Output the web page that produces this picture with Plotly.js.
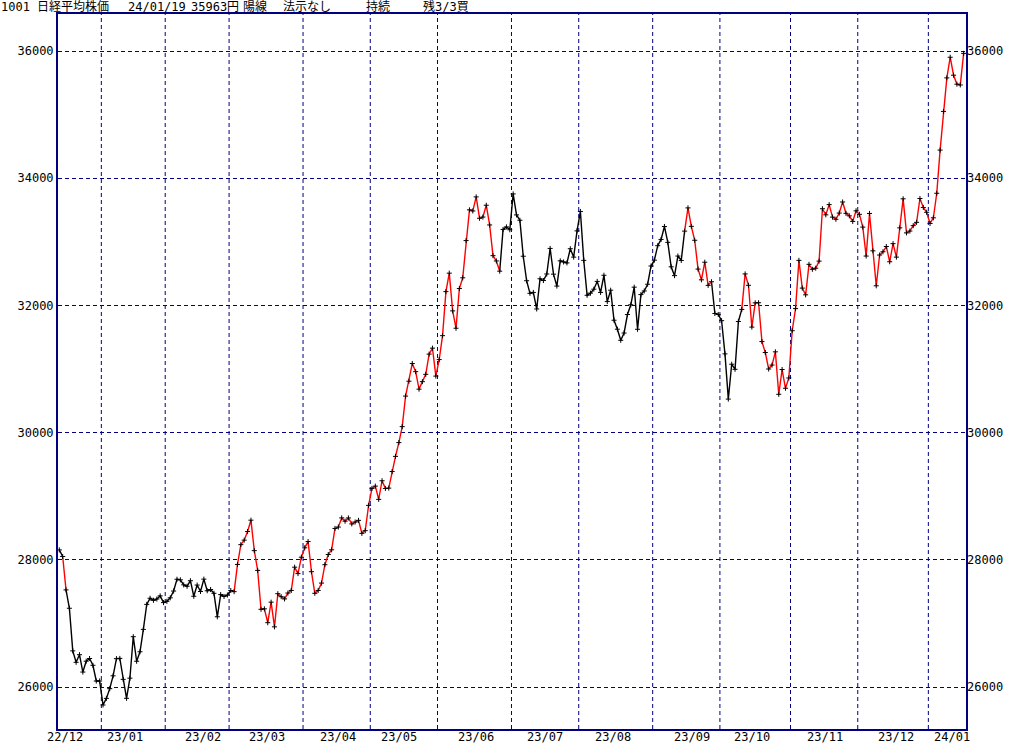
<!DOCTYPE html>
<html>
<head>
<meta charset="utf-8">
<script src="https://cdn.plot.ly/plotly-3.0.1.min.js"></script>
<style>
html,body{margin:0;padding:0;background:#ffffff;}
#chart{width:1024px;height:745px;}
</style>
</head>
<body>
<div id="chart"></div>
<script>
// ---- data ----
const monthLabels = ['22/12','23/01','23/02','23/03','23/04','23/05','23/06','23/07','23/08','23/09','23/10','23/11','23/12','24/01'];
const tradingDays = [13,19,19,22,20,20,22,20,22,20,21,20,21,11];

const closes22Dec = [28156,28052,27527,27238,26568,26388,26508,26235,26406,26448,26341,26094,26095];
const closes23Jan = [25717,25821,25974,26176,26446,26450,26120,25822,26139,26791,26405,26554,26906,27299,27395,27363,27383,27433,27327];
const closes23Feb = [27347,27402,27509,27694,27685,27606,27584,27671,27427,27603,27502,27696,27513,27532,27473,27104,27453,27424,27446];
const closes23Mar = [27517,27499,27927,28238,28309,28444,28623,28144,27833,27222,27229,27011,27334,26946,27467,27420,27385,27477,27518,27884,27783,28041];
const closes23Apr = [28188,28287,27813,27473,27518,27634,27923,28083,28157,28493,28515,28659,28607,28658,28564,28594,28620,28416,28458,28856];
const closes23May = [29123,29158,28950,29243,29122,29127,29388,29626,29843,30094,30574,30808,31087,30958,30683,30801,30916,31234,31328,30888];
const closes23Jun = [31148,31524,32217,32507,31914,31641,32265,32434,33019,33502,33485,33706,33370,33389,33575,33265,32782,32699,32538,33194,33234,33189];
const closes23Jul = [33753,33423,33339,32773,32388,32190,32204,31944,32419,32391,32494,32896,32491,32304,32701,32683,32668,32891,32759,33172];
const closes23Aug = [33477,32708,32159,32193,32255,32377,32204,32474,32060,32239,31767,31626,31451,31566,31857,32010,32287,31624,32170,32227,32333,32619];
const closes23Sep = [32711,32939,33037,33241,32991,32607,32468,32776,32707,33168,33533,33243,33024,32571,32402,32679,32315,32372,31873,31858];
const closes23Oct = [31760,31238,30527,31075,30995,31747,31937,32495,32316,31659,32040,32042,31431,31259,31000,31062,31270,30602,30992,30697,30859];
const closes23Nov = [31602,31950,32708,32272,32166,32646,32568,32585,32696,33520,33424,33585,33388,33354,33452,33626,33448,33408,33321,33487];
const closes23Dec = [33432,33231,32776,33446,32858,32308,32792,32843,32926,32686,32971,32759,33219,33676,33140,33169,33254,33306,33681,33540,33464];
const closes24Jan = [33288,33377,33763,34442,35050,35577,35902,35619,35478,35466,35963];

// signal state runs: k = black, r = red
const signalRuns = [['k',2],['r',1],['k',50],['r',79],['k',55],['r',8],['k',9],['r',66]];

const yTickValues = [26000,28000,30000,32000,34000,36000];
const yTickLabels = ['26000','28000','30000','32000','34000','36000'];

const headerTexts = ['1001','日経平均株価','24/01/19','35963円','陽線','法示なし','持続','残3/3買'];

// ---- layout constants (pixel / position settings) ----
const headerPx = [0,36,127,190,242,282,365,422];
const monthLabelPos = [1.7,19.4,42.6,61.9,82.75,100.9,123.9,144.6,164.8,188.2,205.9,227.9,249.0,265.4];
const PLOT_L = 58, PLOT_R = 966, PLOT_T = 14, PLOT_B = 729;
const NAVY = '#000080';
const FONT = 'DejaVu Sans Mono, Noto Sans CJK JP, monospace';

// ---- build ----
const closes = [].concat(closes22Dec,closes23Jan,closes23Feb,closes23Mar,closes23Apr,closes23May,
  closes23Jun,closes23Jul,closes23Aug,closes23Sep,closes23Oct,closes23Nov,closes23Dec,closes24Jan);
const idx = closes.map((_, i) => i);

const state = [];
signalRuns.forEach(([s, n]) => { for (let k = 0; k < n; k++) state.push(s); });

const traces = [];
let start = 0;
for (let i = 1; i <= closes.length; i++) {
  if (i === closes.length || state[i] !== state[start]) {
    const from = Math.max(0, start - 1);
    traces.push({
      x: idx.slice(from, i), y: closes.slice(from, i), type: 'scatter', mode: 'lines',
      line: {color: state[start] === 'r' ? '#ff0000' : '#000000', width: 1.4},
      hoverinfo: 'skip', showlegend: false
    });
    start = i;
  }
}
traces.push({
  x: idx, y: closes, type: 'scatter', mode: 'markers',
  marker: {symbol: 'cross-thin', size: 3.6, color: '#000000', line: {color: '#000000', width: 1}},
  hoverinfo: 'skip', showlegend: false
});
traces.push({x: [0], y: [30000], yaxis: 'y2', type: 'scatter', mode: 'markers',
  marker: {opacity: 0}, hoverinfo: 'skip', showlegend: false});

const shapes = [];
let cum = 0;
tradingDays.forEach((n, m) => {
  if (m > 0) {
    shapes.push({type: 'line', xref: 'x', yref: 'paper', x0: cum - 0.5, x1: cum - 0.5, y0: 0, y1: 1,
      line: {color: NAVY, width: 1, dash: '4px,3px'}, layer: 'below'});
  }
  cum += n;
});

const W = 1024, H = 745;
const plotW = PLOT_R - PLOT_L, plotH = PLOT_B - PLOT_T;
const annotations = headerTexts.map((t, k) => ({
  text: t, xref: 'paper', yref: 'paper',
  x: (headerPx[k] - PLOT_L) / plotW, y: (PLOT_B - 7) / plotH,
  xanchor: 'left', yanchor: 'middle', showarrow: false, borderpad: 0,
  font: {family: FONT, size: 12, color: '#000000'}
}));
monthLabels.forEach((t, k) => {
  annotations.push({
    text: t, xref: 'x', yref: 'paper', x: monthLabelPos[k], y: -(H - PLOT_B) / plotH,
    xanchor: 'center', yanchor: 'bottom', showarrow: false, borderpad: 0,
    font: {family: FONT, size: 12, color: '#000000'}
  });
});

const yRange = [25339.6, 36581.8];
const layout = {
  width: W, height: H,
  margin: {l: PLOT_L, r: W - PLOT_R, t: PLOT_T, b: H - PLOT_B, pad: 0},
  paper_bgcolor: '#ffffff', plot_bgcolor: '#ffffff',
  showlegend: false,
  xaxis: {
    range: [-0.39, 269.7], showticklabels: false,
    showgrid: false, zeroline: false, showline: true, mirror: true, linecolor: NAVY, linewidth: 2,
    ticks: '', fixedrange: true
  },
  yaxis: {
    range: yRange, tickmode: 'array', tickvals: yTickValues, ticktext: yTickLabels,
    showgrid: true, gridcolor: NAVY, gridwidth: 1, griddash: '4px,3px',
    zeroline: false, showline: true, mirror: true, linecolor: NAVY, linewidth: 2,
    ticks: '', tickfont: {family: FONT, size: 12, color: '#000000'}, fixedrange: true
  },
  yaxis2: {
    range: yRange, overlaying: 'y', side: 'right', tickmode: 'array', tickvals: yTickValues, ticktext: yTickLabels,
    showgrid: false, zeroline: false, showline: false,
    ticks: '', tickfont: {family: FONT, size: 12, color: '#000000'}, fixedrange: true
  },
  shapes: shapes,
  annotations: annotations
};

Plotly.newPlot('chart', traces, layout, {staticPlot: true, displayModeBar: false});
</script>
</body>
</html>
